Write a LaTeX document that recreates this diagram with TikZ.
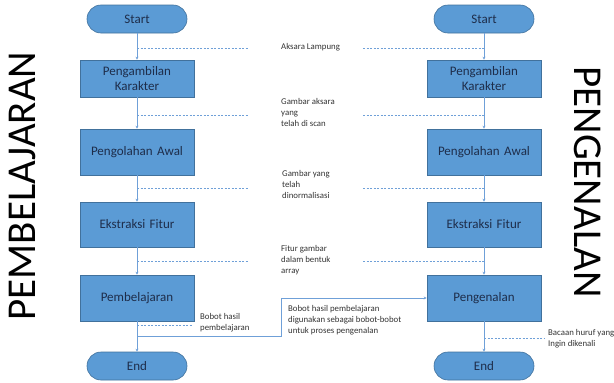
\documentclass[tikz,border=0pt]{standalone}
\usepackage{fontspec}
\setmainfont{Carlito}
\usetikzlibrary{arrows.meta}
\definecolor{boxfill}{HTML}{5B9BD5}
\definecolor{boxline}{HTML}{41719C}
\definecolor{conn}{HTML}{6FA0D8}
\definecolor{boxtext}{HTML}{1E2D4A}
\definecolor{smalltext}{HTML}{333333}
\tikzset{
  procbox/.style={draw=boxline, fill=boxfill, line width=0.6pt, minimum width=114pt, text width=110pt, align=center, inner sep=0pt, font=\fontsize{13}{15}\selectfont, text=boxtext},
  termbox/.style={draw=boxline, fill=boxfill, line width=0.6pt, rounded corners=14pt, minimum width=100pt, minimum height=28pt, inner sep=0pt, font=\fontsize{13}{15}\selectfont, text=boxtext},
  flow/.style={draw=conn, line width=0.6pt, -{Stealth[length=3pt,width=3pt]}},
  guideline/.style={draw=conn, line width=0.5pt, dash pattern=on 2pt off 1.5pt},
  note/.style={anchor=north west, inner sep=0pt, align=left, font=\fontsize{8.8}{11}\selectfont, text=smalltext},
  bigword/.style={inner sep=0pt, font=\fontsize{41}{41}\selectfont, text=black}
}
\begin{document}
\begin{tikzpicture}[x=1pt, y=-1pt]
\useasboundingbox (0,0) rectangle (614,383);
% left column
\node[termbox] (startL) at (137,19) {Start};
\node[procbox, minimum height=37pt] (pengL) at (137,78.5) {Pengambilan\\Karakter};
\node[procbox, minimum height=46pt] (olahL) at (137,152) {Pengolahan Awal};
\node[procbox, minimum height=45pt] (ekstL) at (137,224.5) {Ekstraksi Fitur};
\node[procbox, minimum height=46pt] (belL) at (137,298) {Pembelajaran};
\node[termbox] (endL) at (137,366) {End};
% right column
\node[termbox] (startR) at (484,19) {Start};
\node[procbox, minimum height=37pt] (pengR) at (484,78.5) {Pengambilan\\Karakter};
\node[procbox, minimum height=46pt] (olahR) at (484,152) {Pengolahan Awal};
\node[procbox, minimum height=45pt] (ekstR) at (484,224.5) {Ekstraksi Fitur};
\node[procbox, minimum height=46pt] (kenR) at (484,298) {Pengenalan};
\node[termbox] (endR) at (484,366) {End};
% flows
\foreach \a/\b in {startL/pengL, pengL/olahL, olahL/ekstL, ekstL/belL, belL/endL,
                   startR/pengR, pengR/olahR, olahR/ekstR, ekstR/kenR, kenR/endR}
  \draw[flow] (\a.south) -- (\b.north);
% dashed guide lines
\coordinate (l1a) at (137,48);  \coordinate (l1b) at (249,48);
\coordinate (l2a) at (137,115); \coordinate (l2b) at (249,115);
\coordinate (l3a) at (137,188); \coordinate (l3b) at (249,188);
\coordinate (l4a) at (137,261); \coordinate (l4b) at (249,261);
\coordinate (l5a) at (137,325); \coordinate (l5b) at (193,325);
\coordinate (r1a) at (363,48);  \coordinate (r1b) at (484,48);
\coordinate (r2a) at (363,115); \coordinate (r2b) at (484,115);
\coordinate (r3a) at (363,188); \coordinate (r3b) at (484,188);
\coordinate (r4a) at (363,261); \coordinate (r4b) at (484,261);
\coordinate (r5a) at (484,338); \coordinate (r5b) at (545,338);
\foreach \p in {l1,l2,l3,l4,l5,r1,r2,r3,r4,r5}
  \draw[guideline] (\p a) -- (\p b);
% transfer connector
\coordinate (tr0) at (137,336);
\coordinate (tr1) at (281,336);
\coordinate (tr2) at (281,298);
\draw[flow] (tr0) -- (tr1) -- (tr2) -- (kenR.west);
% notes
\node[note] (n1) at (281,43) {Aksara Lampung};
\node[note] (n2) at (281,98) {Gambar aksara\\yang\\telah di scan};
\node[note] (n3) at (282,170) {Gambar yang\\telah\\dinormalisasi};
\node[note] (n4) at (281,245) {Fitur gambar\\dalam bentuk\\array};
\node[note] (n5) at (200,313) {Bobot hasil\\pembelajaran};
\node[note] (n6) at (288,305) {Bobot hasil pembelajaran\\digunakan sebagai bobot-bobot\\untuk proses pengenalan};
\node[note] (n7) at (548,329) {Bacaan huruf yang\\Ingin dikenali};
% big labels
\node[bigword, rotate=90] (wL) at (22,186) {PEMBELAJARAN};
\node[bigword, rotate=-90] (wR) at (588,182) {PENGENALAN};
\end{tikzpicture}
\end{document}
